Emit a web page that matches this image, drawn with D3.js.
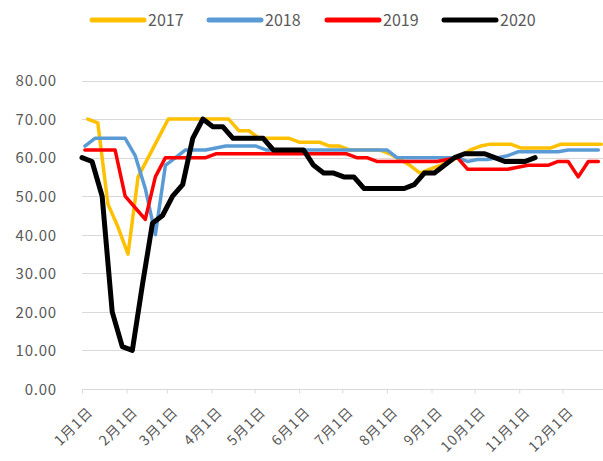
<!DOCTYPE html>
<html>
<head>
<meta charset="utf-8">
<script src="https://cdn.jsdelivr.net/npm/d3@7"></script>
<style>
  html, body { margin: 0; padding: 0; background: #fff; }
  svg { display: block; }
  text { font-family: "Noto Sans CJK SC", "Noto Sans", sans-serif; fill: #595959; }
</style>
</head>
<body>
<svg id="chart" width="603" height="461"></svg>
<script>
// Weekly series, one value per week, starting on the given month-day
const seriesNames = ["2017", "2018", "2019", "2020"];
const seriesColors = ["#FFC000", "#5B9BD5", "#FF0000", "#000000"];
const seriesWidths = [3.5, 3.5, 3.5, 5];
const seriesStart = ["01-05", "01-03", "01-03", "01-01"];

const values2017 = [70, 69, 48, 42, 35, 55, 60, 65, 70, 70, 70, 70, 70, 70, 70, 67,
  67, 65, 65, 65, 65, 64, 64, 64, 63, 63, 62, 62, 62, 62, 61, 59.5, 58, 56, 57, 58,
  59, 60.5, 62, 63, 63.5, 63.5, 63.5, 62.5, 62.5, 62.5, 62.5, 63.5, 63.5, 63.5, 63.5, 63.5];
const values2018 = [63, 65, 65, 65, 65, 60.5, 52, 40, 58, 60, 62, 62, 62, 62.5, 63, 63,
  63, 63, 62, 62, 62, 62, 62, 62, 62, 62, 62, 62, 62, 62, 62, 60, 60, 60, 60, 60,
  60, 60, 59, 59.5, 59.5, 60, 60.5, 61.5, 61.5, 61.5, 61.5, 61.5, 62, 62, 62, 62];
const values2019 = [62, 62, 62, 62, 50, 47, 44, 55, 60, 60, 60, 60, 60, 61, 61, 61,
  61, 61, 61, 61, 61, 61, 61, 61, 61, 61, 61, 60, 60, 59, 59, 59, 59, 59, 59, 59,
  59.5, 60, 57, 57, 57, 57, 57, 57.5, 58, 58, 58, 59, 59, 55, 59, 59];
const values2020 = [60, 59, 50, 20, 11, 10, 27, 43, 45, 50, 53, 65, 70, 68, 68, 65,
  65, 65, 65, 62, 62, 62, 62, 58, 56, 56, 55, 55, 52, 52, 52, 52, 52, 53, 56, 56,
  58, 60, 61, 61, 61, 60, 59, 59, 59, 60];
const allValues = [values2017, values2018, values2019, values2020];

const yTicks = [0, 10, 20, 30, 40, 50, 60, 70, 80];
const monthLabels = ["1月1日", "2月1日", "3月1日", "4月1日", "5月1日", "6月1日",
  "7月1日", "8月1日", "9月1日", "10月1日", "11月1日", "12月1日"];

// All years are laid onto one calendar year for comparison
const axisYear = 2019;
const parseDay = d3.timeParse("%Y-%m-%d");

const svg = d3.select("#chart");
const W = 603, H = 461;
svg.append("rect").attr("width", W).attr("height", H).attr("fill", "#fff");

const x = d3.scaleTime()
  .domain([new Date(axisYear, 0, 1), new Date(axisYear + 1, 0, 1)])
  .range([82, 607]);
const y = d3.scaleLinear().domain([0, 80]).range([389, 80.5]);

// Horizontal gridlines
svg.append("g").selectAll("line")
  .data(yTicks.filter(t => t > 0))
  .join("line")
  .attr("x1", x.range()[0]).attr("x2", W)
  .attr("y1", d => Math.round(y(d)) + 0.5).attr("y2", d => Math.round(y(d)) + 0.5)
  .attr("stroke", "#d9d9d9").attr("stroke-width", 1);

// Y axis labels
const yAxis = d3.axisLeft(y).tickValues(yTicks).tickSize(0).tickPadding(0)
  .tickFormat(d3.format(".2f"));
const gy = svg.append("g").attr("transform", "translate(57,0)").call(yAxis);
gy.select(".domain").remove();
gy.selectAll("text").attr("font-size", 15).attr("fill", "#595959")
  .attr("letter-spacing", 0.8)
  .style("font-family", "'Noto Sans CJK SC', sans-serif").attr("dy", "0.35em");

// X axis with month ticks
const monthStarts = d3.timeMonth.range(new Date(axisYear, 0, 1), new Date(axisYear, 11, 2));
const xAxis = d3.axisBottom(x).tickValues(monthStarts).tickSize(4)
  .tickFormat((d, i) => monthLabels[i]);
const gx = svg.append("g").attr("transform", `translate(0,${Math.round(y(0)) + 0.5})`).call(xAxis);
gx.select(".domain").attr("d", `M${x.range()[0]},0H${W}`).attr("stroke", "#d9d9d9");
gx.selectAll(".tick line").attr("stroke", "#d9d9d9");
gx.selectAll(".tick text")
  .attr("font-size", 14).attr("fill", "#595959")
  .attr("letter-spacing", 1)
  .attr("text-anchor", "end")
  .attr("transform", "translate(8,20) rotate(-45)")
  .attr("x", 0).attr("y", 0).attr("dy", "0.35em");

// Series lines
function seriesPoints(vals, start) {
  const first = parseDay(`${axisYear}-${start}`);
  return vals.map((v, i) => ({ date: d3.timeDay.offset(first, i * 7), value: v }));
}
const line = d3.line().x(d => x(d.date)).y(d => y(d.value));

seriesNames.forEach((name, k) => {
  svg.append("path")
    .datum(seriesPoints(allValues[k], seriesStart[k]))
    .attr("fill", "none")
    .attr("stroke", seriesColors[k])
    .attr("stroke-width", seriesWidths[k])
    .attr("stroke-linejoin", "round")
    .attr("stroke-linecap", "round")
    .attr("d", line);
});

// Legend
const legend = svg.append("g").attr("transform", "translate(0,20)");
const legendX = [92, 209, 327, 444];
seriesNames.forEach((name, k) => {
  const g = legend.append("g").attr("transform", `translate(${legendX[k]},0)`);
  g.append("line").attr("x1", 0).attr("x2", 52).attr("y1", 0).attr("y2", 0)
    .attr("stroke", seriesColors[k]).attr("stroke-width", 5).attr("stroke-linecap", "round");
  g.append("text").attr("x", 56).attr("y", 0).attr("dy", "0.35em")
    .attr("font-size", 16).attr("fill", "#595959").text(name);
});
</script>
</body>
</html>
